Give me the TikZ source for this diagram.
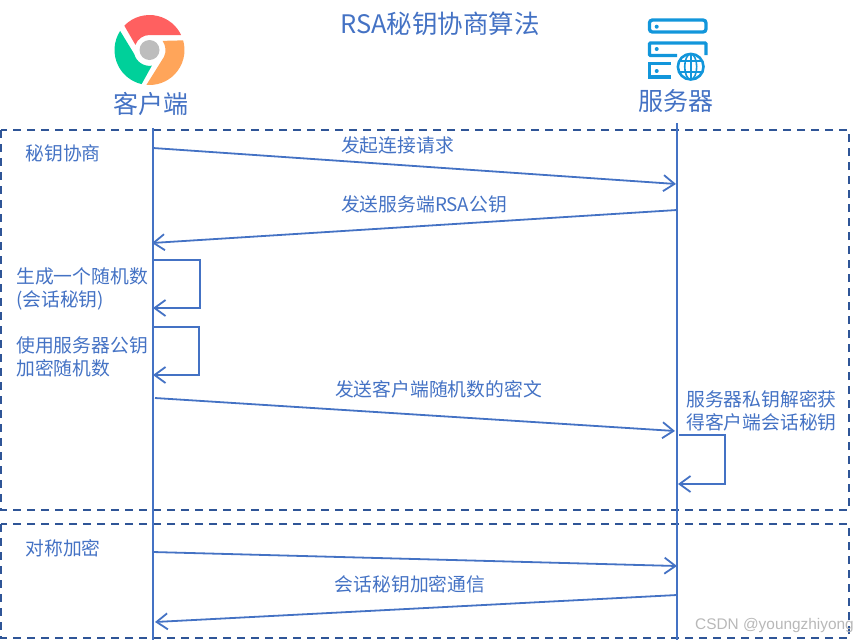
\documentclass[tikz,border=0pt]{standalone}
\usepackage{fontspec}
\setmainfont{Noto Sans CJK SC}
\newfontfamily\markfont{Liberation Sans}
\usetikzlibrary{arrows.meta}
\definecolor{linecolor}{HTML}{4472C4}
\definecolor{framecolor}{HTML}{2F5597}
\definecolor{iconblue}{HTML}{1296DB}
\definecolor{iconred}{HTML}{FF6060}
\definecolor{icongreen}{HTML}{00D09A}
\definecolor{iconorange}{HTML}{FFA55A}
\definecolor{icongray}{HTML}{BDBDBD}
\tikzset{
    label text/.style={text=linecolor, font=\fontsize{18.8}{23}\selectfont, inner sep=0pt},
    head text/.style={text=linecolor, font=\fontsize{25}{28}\selectfont, inner sep=0pt},
    msg/.style={draw=linecolor, line width=1.8pt, -{Straight Barb[length=11pt,width=16pt,line width=1.8pt]}},
    lifeline/.style={draw=linecolor, line width=1.8pt},
    frame/.style={draw=framecolor, line width=1.8pt, dash pattern=on 8pt off 6pt},
}
\begin{document}
\begin{tikzpicture}[x=1pt, y=-1pt]
    \useasboundingbox (0, 0) rectangle (858, 641);

    % 标题
    \node[text=linecolor, font=\fontsize{25.5}{28}\selectfont, inner sep=0pt] (title) at (440, 24) {RSA秘钥协商算法};

    % 客户端图标
    \begin{scope}[shift={(149.5, 50)}, yscale=-1]
        \fill[iconred] (136:35) arc[start angle=136, end angle=25, radius=35] -- (0, 15) arc[start angle=90, end angle=160, radius=15] -- cycle;
        \fill[icongreen] (147:35) arc[start angle=147, end angle=257, radius=35] -- (2.3, -15.7) arc[start angle=-82, end angle=-165, radius=15.9] -- cycle;
        \fill[iconorange] (16:35) arc[start angle=16, end angle=-95, radius=35] -- (14.5, -6.8) arc[start angle=-25, end angle=35, radius=16] -- cycle;
        \fill[icongray] (0, 0) circle (10);
    \end{scope}
    \node[head text] (client) at (150.5, 104) {客户端};

    % 服务器图标
    \begin{scope}[iconblue, line width=3.3pt]
        \draw[rounded corners=3pt] (649.4, 20) rectangle (706, 32);
        \draw[rounded corners=1pt] (677, 55.5) -- (649.4, 55.5) -- (649.4, 43) -- (706, 43) -- (706, 55);
        \draw (671, 63.5) -- (649.4, 63.5) -- (649.4, 77) -- (671, 77);
        \foreach \dotY in {26.7, 49, 71} {
            \fill (656.7, \dotY) circle (2);
        }
        \draw[line width=2.6pt] (690.7, 66.7) circle (12.8);
        \draw[line width=1.6pt] (690.7, 66.7) ellipse (6 and 12.8);
        \draw[line width=1.6pt] (690.7, 54) -- (690.7, 79.5);
        \draw[line width=1.6pt] (679, 61) -- (702.5, 61);
        \draw[line width=1.6pt] (679, 71.7) -- (702.5, 71.7);
    \end{scope}
    \node[head text] (server) at (675.5, 101) {服务器};

    % 虚线框
    \draw[frame] (1, 130) rectangle (849, 510);
    \draw[frame] (1, 524) rectangle (849, 638);

    % 生命线
    \coordinate (client top) at (153, 128);
    \coordinate (client end) at (153, 640);
    \coordinate (server top) at (677, 123);
    \coordinate (server end) at (677, 640);
    \draw[lifeline] (client top) -- (client end);
    \draw[lifeline] (server top) -- (server end);

    % 秘钥协商
    \node[label text] (negotiate) at (63, 153) {秘钥协商};

    \coordinate (connect a) at (153, 148);
    \coordinate (connect b) at (676, 184);
    \draw[msg] (connect a) -- (connect b);
    \node[label text] (connect) at (397.5, 145) {发起连接请求};

    \coordinate (pubkey a) at (677, 210);
    \coordinate (pubkey b) at (152, 243);
    \draw[msg] (pubkey a) -- (pubkey b);
    \node[label text] (pubkey) at (424, 204) {发送服务端RSA公钥};

    % 两个自环
    \coordinate (random a) at (153, 260);
    \coordinate (random b) at (153, 308);
    \draw[msg] (random a) -- (200, 260) -- (200, 308) -- (random b);
    \node[label text, align=left, anchor=west] (random) at (16, 288.5) {生成一个随机数\\(会话秘钥)};

    \coordinate (encrypt a) at (153, 327);
    \coordinate (encrypt b) at (153, 375);
    \draw[msg] (encrypt a) -- (199, 327) -- (199, 375) -- (encrypt b);
    \node[label text, align=left, anchor=west] (encrypt) at (16, 356.5) {使用服务器公钥\\加密随机数};

    \coordinate (cipher a) at (155, 398);
    \coordinate (cipher b) at (675, 431);
    \draw[msg] (cipher a) -- (cipher b);
    \node[label text] (cipher) at (438.5, 389) {发送客户端随机数的密文};

    \coordinate (decrypt a) at (679, 435);
    \coordinate (decrypt b) at (678, 484);
    \draw[msg] (decrypt a) -- (725, 435) -- (725, 484) -- (decrypt b);
    \node[label text, align=left, anchor=west] (decrypt) at (686, 411) {服务器私钥解密获\\得客户端会话秘钥};

    % 对称加密
    \node[label text] (symmetric) at (63, 548) {对称加密};

    \coordinate (send a) at (153, 552);
    \coordinate (send b) at (677, 566);
    \draw[msg] (send a) -- (send b);

    \coordinate (reply a) at (677, 595);
    \coordinate (reply b) at (155, 622);
    \draw[msg] (reply a) -- (reply b);
    \node[label text] (session) at (410, 584) {会话秘钥加密通信};

    % 水印
    \node[text=black!28, font=\markfont\fontsize{15.4}{18}\selectfont, inner sep=0pt, anchor=west] (watermark) at (695, 626) {CSDN @youngzhiyong};
\end{tikzpicture}
\end{document}
